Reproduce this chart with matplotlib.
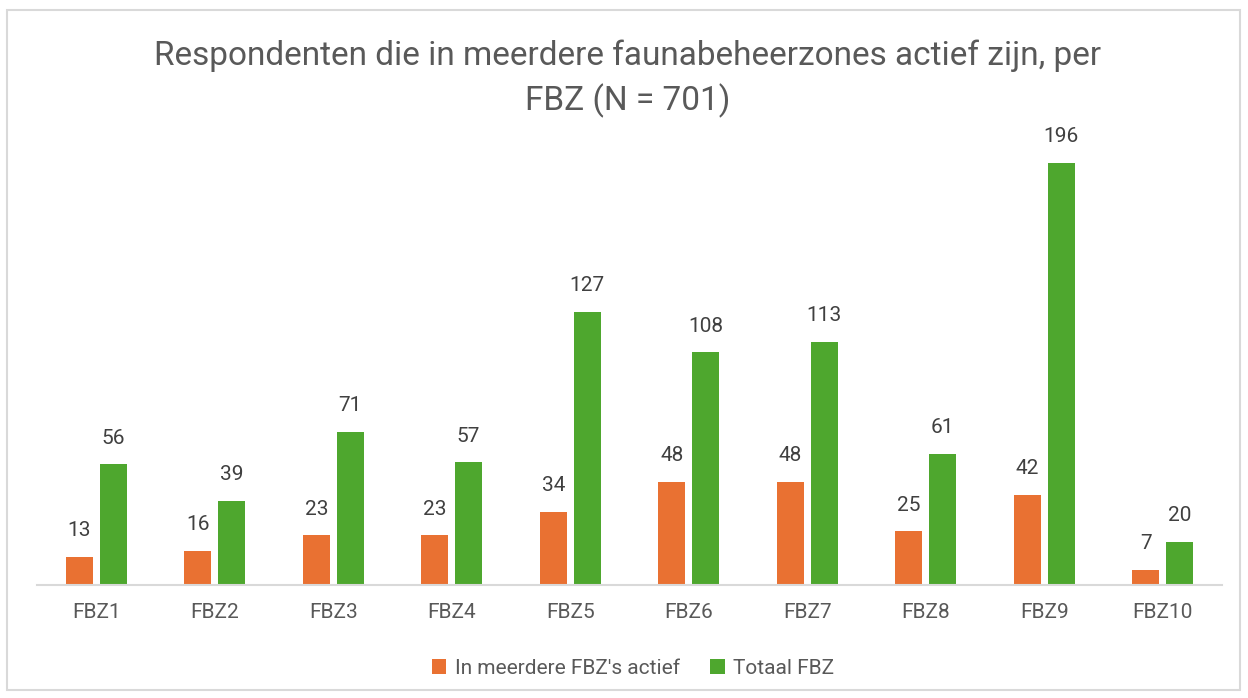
import numpy as np
import matplotlib.pyplot as plt
from matplotlib.patches import Rectangle

# Data
categories = ['FBZ1', 'FBZ2', 'FBZ3', 'FBZ4', 'FBZ5', 'FBZ6', 'FBZ7', 'FBZ8', 'FBZ9', 'FBZ10']
meerdere = [13, 16, 23, 23, 34, 48, 48, 25, 42, 7]
totaal = [56, 39, 71, 57, 127, 108, 113, 61, 196, 20]
series_names = ["In meerdere FBZ's actief", 'Totaal FBZ']

plt.rcParams['font.family'] = ['Roboto', 'DejaVu Sans']
c_orange = '#E97132'
c_green = '#4EA72E'
c_text = '#595959'

W, H = 1248, 698
fig = plt.figure(figsize=(W / 100, H / 100), dpi=100)

# chart border
fig.patches.append(Rectangle((7 / W, 1 - 690 / H), 1233 / W, 680 / H, transform=fig.transFigure,
                             fill=False, edgecolor='#D9D9D9', linewidth=1.5))

# plot area: x from 37 to 1222 px, baseline at 585 px
ymax = 210
px_per_unit = (585 - 163) / 196
top_px = 585 - ymax * px_per_unit
ax = fig.add_axes([37 / W, 1 - 585 / H, (1222 - 37) / W, (585 - top_px) / H])

x = np.arange(len(categories))
bw = 0.228
off = 0.142
b1 = ax.bar(x - off, meerdere, bw, color=c_orange, label=series_names[0])
b2 = ax.bar(x + off, totaal, bw, color=c_green, label=series_names[1])

for bars in (b1, b2):
    ax.bar_label(bars, padding=12, fontsize=15, color='#404040')

ax.set_xlim(-0.5, len(categories) - 0.5)
ax.set_ylim(0, ymax)
ax.set_yticks([])
ax.set_xticks(x)
ax.set_xticklabels(categories, fontsize=15, color=c_text)
ax.tick_params(axis='x', length=0, pad=13)
for s in ['top', 'right', 'left']:
    ax.spines[s].set_visible(False)
ax.spines['bottom'].set_color('#D9D9D9')
ax.spines['bottom'].set_linewidth(1.5)

fig.text(628 / W, 1 - 56 / H, 'Respondenten die in meerdere faunabeheerzones actief zijn, per',
         ha='center', va='center', fontsize=24, color=c_text)
fig.text(628 / W, 1 - 101 / H, 'FBZ (N = 701)',
         ha='center', va='center', fontsize=24, color=c_text)

fig.legend(handles=[b1, b2], loc='center', bbox_to_anchor=(633 / W, 1 - 668 / H), ncol=2,
           frameon=False, fontsize=15, labelcolor=c_text, handlelength=0.7, handleheight=0.7,
           handletextpad=0.4, columnspacing=1.45)

fig.savefig('out.png', dpi=100)
